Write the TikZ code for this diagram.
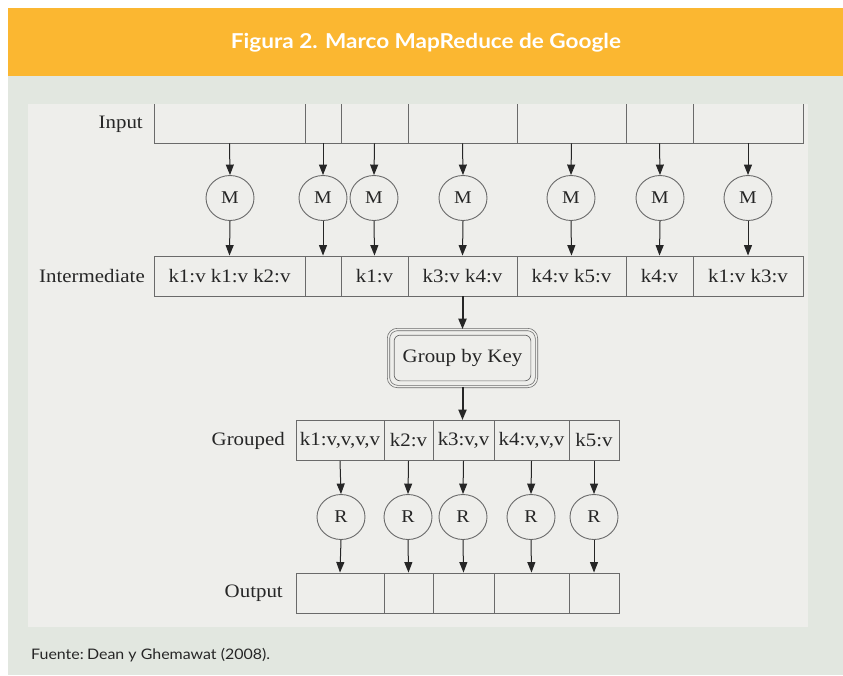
\documentclass[tikz,border=0pt]{standalone}
\usepackage{fontspec}
\setmainfont[FakeStretch=1.1]{Liberation Serif}
\newfontfamily\headfont[FakeStretch=1.1]{Lato}
\usetikzlibrary{arrows.meta,shapes.geometric}
\definecolor{orangehdr}{HTML}{FBB731}
\definecolor{bgouter}{HTML}{E2E7E0}
\definecolor{panel}{HTML}{EEEEEB}
\definecolor{linegray}{HTML}{6A6A6A}
\definecolor{ink}{HTML}{262626}
\begin{document}
\begin{tikzpicture}[x=1pt,y=-1pt,
  cell/.style={draw=linegray, line width=0.9pt, minimum height=40pt, inner sep=0pt,
    font=\fontsize{19}{22}\selectfont, text=ink},
  proc/.style={ellipse, draw=linegray, line width=0.9pt, minimum width=48pt, minimum height=45pt, inner sep=0pt,
    font=\fontsize{18}{20}\selectfont, text=ink},
  lab/.style={anchor=east, font=\fontsize{19}{22}\selectfont, text=ink, inner sep=0pt},
  arr/.style={draw=ink, line width=1pt, -{Triangle[width=8pt,length=10.5pt]}},
  thickarr/.style={arr, line width=2pt},
]
\useasboundingbox (0,0) rectangle (843,675);
% background
\fill[white] (0,0) rectangle (843,675);
\fill[orangehdr] (8,8) rectangle (843,76);
\fill[bgouter] (8,76) rectangle (843,675);
\fill[panel] (28,104) rectangle (808,627);
\node[font=\headfont\bfseries\fontsize{20.5}{24}\selectfont, text=white] (title) at (426,43) {Figura 2. Marco MapReduce de Google};
\node[font=\headfont\fontsize{14.5}{17}\selectfont, text=ink, anchor=west, inner sep=0pt] (src) at (31,655) {Fuente:\hspace{-0.15em} Dean y Ghemawat (2008).};

% input row (top edge hidden by panel top)
\begin{scope}
\clip (28,104) rectangle (808,627);
\node[cell, minimum width=151pt, minimum height=50pt] (in1) at (229.5,118) {};
\node[cell, minimum width=36pt, minimum height=50pt] (in2) at (323,118) {};
\node[cell, minimum width=67pt, minimum height=50pt] (in3) at (374.5,118) {};
\node[cell, minimum width=109pt, minimum height=50pt] (in4) at (462.5,118) {};
\node[cell, minimum width=109pt, minimum height=50pt] (in5) at (571.5,118) {};
\node[cell, minimum width=67pt, minimum height=50pt] (in6) at (659.5,118) {};
\node[cell, minimum width=110pt, minimum height=50pt] (in7) at (748,118) {};
\end{scope}
\node[lab] (linput) at (143,124) {Input};

% map circles
\node[proc] (m1) at (230,198) {M};
\node[proc] (m2) at (323,198) {M};
\node[proc] (m3) at (374,198) {M};
\node[proc] (m4) at (463,198) {M};
\node[proc] (m5) at (571,198) {M};
\node[proc] (m6) at (660,198) {M};
\node[proc] (m7) at (748,198) {M};

% intermediate row
\node[cell, minimum width=151pt] (im1) at (229.5,276) {k1:v k1:v k2:v};
\node[cell, minimum width=36pt] (im2) at (323,276) {};
\node[cell, minimum width=67pt] (im3) at (374.5,276) {k1:v};
\node[cell, minimum width=109pt] (im4) at (462.5,276) {k3:v k4:v};
\node[cell, minimum width=109pt] (im5) at (571.5,276) {k4:v k5:v};
\node[cell, minimum width=67pt] (im6) at (659.5,276) {k4:v};
\node[cell, minimum width=110pt] (im7) at (748,276) {k1:v k3:v};
\node[lab] (linter) at (145,276) {Intermediate};

\foreach \i in {1,...,7}{
  \draw[arr] (in\i.south) -- (m\i.north);
  \draw[arr] (m\i.south) -- (im\i.north);
}

% group by key
\node[draw=linegray, line width=0.7pt, double=panel, double distance=1.6pt, rounded corners=9pt,
  minimum width=148pt, minimum height=57pt, inner sep=0pt, text=ink,
  font=\fontsize{19}{22}\selectfont] (gbk) at (462.5,358) {Group by Key};
\draw[linegray, line width=0.7pt, rounded corners=6pt] ([shift={(6,6)}]gbk.north west) rectangle ([shift={(-6,-6)}]gbk.south east);
\draw[thickarr] (im4.south) -- (gbk.north);

% grouped row
\node[cell, minimum width=88pt] (g1) at (340,440.5) {k1:v,v,v,v};
\node[cell, minimum width=49pt] (g2) at (408.5,440.5) {k2:v};
\node[cell, minimum width=61pt] (g3) at (463.5,440.5) {k3:v,v};
\node[cell, minimum width=75pt] (g4) at (531.5,440.5) {k4:v,v,v};
\node[cell, minimum width=50pt] (g5) at (594,440.5) {k5:v};
\node[lab] (lgroup) at (285,441) {Grouped};
\draw[thickarr] (gbk.south) -- (gbk.south |- g3.north);

% reduce circles
\node[proc] (r1) at (341,517) {R};
\node[proc] (r2) at (408,517) {R};
\node[proc] (r3) at (463,517) {R};
\node[proc] (r4) at (531,517) {R};
\node[proc] (r5) at (594,517) {R};

% output row
\node[cell, minimum width=88pt] (o1) at (340,593) {};
\node[cell, minimum width=49pt] (o2) at (408.5,593) {};
\node[cell, minimum width=61pt] (o3) at (463.5,593) {};
\node[cell, minimum width=75pt] (o4) at (531.5,593) {};
\node[cell, minimum width=50pt] (o5) at (594,593) {};
\node[lab] (lout) at (283,593) {Output};

\foreach \i in {1,...,5}{
  \draw[arr] (g\i.south) -- (r\i.north);
  \draw[arr] (r\i.south) -- (o\i.north);
}
\end{tikzpicture}
\end{document}
